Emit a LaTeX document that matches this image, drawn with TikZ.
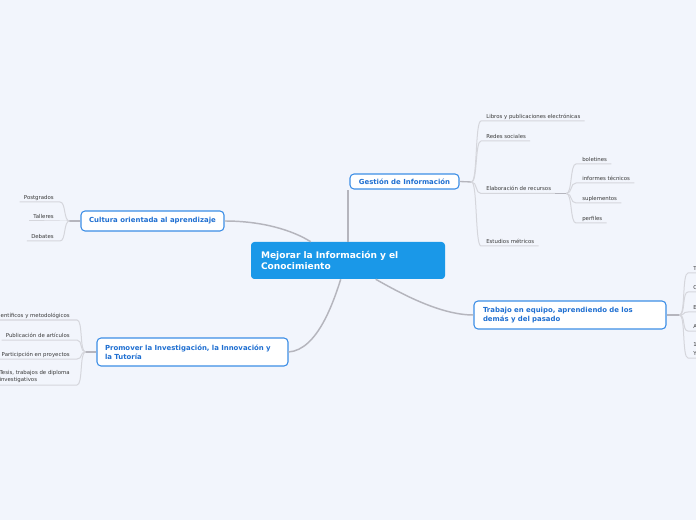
\documentclass[tikz,border=0pt]{standalone}
\usepackage{fontspec}
\setmainfont{DejaVu Sans}
\usetikzlibrary{calc}
\definecolor{bg}{HTML}{F2F5FC}
\definecolor{mainblue}{HTML}{1A98E8}
\definecolor{bordblue}{HTML}{3C8EE6}
\definecolor{subtext}{HTML}{1F6FD1}
\definecolor{conn}{HTML}{B5B5BD}
\definecolor{leafline}{HTML}{D5D6DC}
\definecolor{leaftext}{HTML}{3A3A3A}
\begin{document}
\begin{tikzpicture}[x=0.75pt,y=-0.75pt,
  central/.style={fill=mainblue, rounded corners=2.5pt, text=white,
    font=\bfseries\fontsize{6.8}{8.25}\selectfont, minimum width=145.5pt,
    minimum height=27.75pt, inner xsep=7.5pt, text width=130.5pt, align=left},
  subbox/.style={draw=bordblue, line width=0.8pt, fill=white, rounded corners=3pt,
    text=subtext, font=\bfseries\fontsize{5.2}{6.75}\selectfont},
  leaf/.style={text=leaftext, font=\fontsize{4.05}{5.25}\selectfont, inner sep=0pt},
  mainconn/.style={draw=conn, line width=1.1pt},
  stemline/.style={draw=conn, line width=1pt},
  leafconn/.style={draw=leafline, line width=0.75pt},
]
\useasboundingbox[fill=bg] (0,0) rectangle (696,520);

% central and main topics
\node[central] (cen) at (348,260.5) {Mejorar la Información y el\\Conocimiento};
\node[subbox, minimum width=81.75pt, minimum height=11.25pt, inner sep=0pt] (gest) at (404.5,181.5) {Gestión de Información};
\node[subbox, minimum width=107.25pt, minimum height=15pt, inner sep=0pt] (cul) at (152.5,221) {Cultura orientada al aprendizaje};
\node[subbox, minimum width=143.25pt, minimum height=21pt, inner xsep=6pt, text width=131.25pt, align=left] (pro) at (192.5,352) {Promover la Investigación, la Innovación y\\la Tutoría};
\node[subbox, minimum width=144pt, minimum height=21pt, inner xsep=6.75pt, text width=130.5pt, align=left] (tra) at (570,315) {Trabajo en equipo, aprendiendo de los\\demás y del pasado};

% main connectors
\draw[mainconn] (cen.north) -- (cen.north |- gest.south);
\draw[mainconn] (cul.east) .. controls (262,221) and (292,230) .. ($(cen.north west)+(60,0)$);
\draw[mainconn] (pro.east) .. controls (318,350) and (334,300) .. ($(cen.south west)+(90,0)$);
\draw[mainconn] ($(cen.south west)+(125,0)$) .. controls (400,293) and (440,315) .. (tra.west);

% Gestion leaves
\coordinate (gb) at ($(gest.east)+(12,0.5)$);
\draw[stemline] (gest.east) -- (gb);
\node[leaf, anchor=base west] (g1) at (486,118.5) {Libros y publicaciones electrónicas};
\node[leaf, anchor=base west] (g2) at (486,138.5) {Redes sociales};
\node[leaf, anchor=base west] (g3) at (486,191) {Elaboración de recursos};
\node[leaf, anchor=base west] (g4) at (486,243.5) {Estudios métricos};
\foreach \n in {g1,g2,g3,g4}{
  \draw[leafconn] (gb) .. controls +(6,0) and +(-6,0) .. ($(\n.base west)+(-5,2.5)$) -- ($(\n.base east)+(4,2.5)$);
}
\coordinate (eb) at ($(g3.base east)+(15,2.5)$);
\draw[stemline] ($(g3.base east)+(4,2.5)$) -- (eb);
\node[leaf, anchor=base west] (e1) at (582,161.5) {boletines};
\node[leaf, anchor=base west] (e2) at (582,180.5) {informes técnicos};
\node[leaf, anchor=base west] (e3) at (582,200.5) {suplementos};
\node[leaf, anchor=base west] (e4) at (582,220.5) {perfiles};
\foreach \n in {e1,e2,e3,e4}{
  \draw[leafconn] (eb) .. controls +(6,0) and +(-6,0) .. ($(\n.base west)+(-6,2.5)$) -- ($(\n.base east)+(4,2.5)$);
}

% Cultura leaves
\coordinate (cb) at ($(cul.west)+(-11,0)$);
\draw[stemline] (cul.west) -- (cb);
\node[leaf, anchor=base east] (c1) at (54,199.5) {Postgrados};
\node[leaf, anchor=base east] (c2) at (54,218.5) {Talleres};
\node[leaf, anchor=base east] (c3) at (54,238.5) {Debates};
\foreach \n in {c1,c2,c3}{
  \draw[leafconn] (cb) .. controls +(-6,0) and +(6,0) .. ($(\n.base east)+(6,2.5)$) -- ($(\n.base west)+(-4,2.5)$);
}

% Promover leaves
\coordinate (pb) at ($(pro.west)+(-11,0)$);
\draw[stemline] (pro.west) -- (pb);
\node[leaf, anchor=base east] (p1) at (70,317.5) {Eventos científicos y metodológicos};
\node[leaf, anchor=base east] (p2) at (70,337.5) {Publicación de artículos};
\node[leaf, anchor=base east] (p3) at (70,356.5) {Participción en proyectos};
\foreach \n in {p1,p2,p3}{
  \draw[leafconn] (pb) .. controls +(-6,0) and +(6,0) .. ($(\n.base east)+(7,2.5)$) -- ($(\n.base west)+(-4,2.5)$);
}
\node[leaf, anchor=south east, align=left] (p4) at (70,382.5) {Tesis, trabajos de diploma\\investigativos};
\draw[leafconn] (pb) .. controls +(-6,0) and +(6,0) .. ($(p4.south east)+(7,2.5)$) -- ($(p4.south west)+(-4,2.5)$);

% Trabajo leaves
\coordinate (tb) at ($(tra.east)+(13,0)$);
\draw[stemline] (tra.east) -- (tb);
\node[leaf, anchor=base west] (t1) at (693,270.5) {T};
\node[leaf, anchor=base west] (t2) at (693,289.5) {C};
\node[leaf, anchor=base west] (t3) at (693,309.5) {E};
\node[leaf, anchor=base west] (t4) at (693,328.5) {A};
\foreach \n in {t1,t2,t3,t4}{
  \draw[leafconn] (tb) .. controls +(6,0) and +(-6,0) .. ($(\n.base west)+(-5,2.5)$) -- ($(\n.base west)+(20,2.5)$);
}
\node[leaf, anchor=south west, align=left, font=\fontsize{4.05}{6.75}\selectfont] (t5) at (693,355.5) {1\\Y};
\draw[leafconn] (tb) .. controls +(6,0) and +(-6,0) .. ($(t5.south west)+(-5,2.5)$) -- ($(t5.south west)+(20,2.5)$);
\end{tikzpicture}
\end{document}
